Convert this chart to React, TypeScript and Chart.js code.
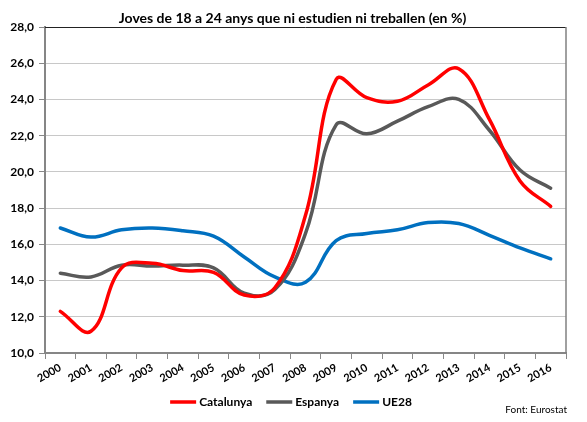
import React, { useEffect, useRef } from "react";
import { Chart, registerables } from "chart.js";

Chart.register(...registerables);

const title = "Joves de 18 a 24 anys que ni estudien ni treballen (en %)";
const source = "Font: Eurostat";
const years = ["2000","2001","2002","2003","2004","2005","2006","2007","2008","2009","2010","2011","2012","2013","2014","2015","2016"];
const catalunya = [12.3, 11.2, 14.7, 14.95, 14.55, 14.45, 13.2, 13.6, 17.6, 25.1, 24.1, 23.9, 24.8, 25.7, 22.9, 19.5, 18.1];
const espanya = [14.4, 14.2, 14.85, 14.8, 14.85, 14.7, 13.3, 13.5, 16.6, 22.6, 22.1, 22.8, 23.6, 24.0, 22.3, 20.1, 19.1];
const ue28 = [16.9, 16.4, 16.8, 16.9, 16.75, 16.45, 15.3, 14.2, 13.9, 16.2, 16.6, 16.8, 17.2, 17.15, 16.5, 15.8, 15.2];
const seriesNames = ["Catalunya", "Espanya", "UE28"];
const seriesColors = ["#FF0000", "#595959", "#0070C0"];
const yMin = 10;
const yMax = 28;
const yStep = 2;

const FONT = "Lato, 'Liberation Sans', Arial, sans-serif";

const decorPlugin = {
  id: "decor",
  afterDraw(chart: any) {
    const { ctx, chartArea, width } = chart;
    ctx.save();
    ctx.strokeStyle = "#222";
    ctx.lineWidth = 1;
    ctx.beginPath();
    ctx.moveTo(chartArea.left, chartArea.top + 0.5);
    ctx.lineTo(chartArea.right, chartArea.top + 0.5);
    ctx.stroke();
    ctx.strokeStyle = "#808080";
    ctx.lineWidth = 1.5;
    ctx.beginPath();
    ctx.moveTo(chartArea.right, chartArea.top);
    ctx.lineTo(chartArea.right, chartArea.bottom);
    ctx.stroke();

    ctx.fillStyle = "#000";
    ctx.font = `bold 14px ${FONT}`;
    ctx.textAlign = "center";
    ctx.textBaseline = "middle";
    ctx.fillText(title, width / 2 - 1, 18);

    ctx.font = `bold 12px ${FONT}`;
    const lineW = 26;
    const gap = 3;
    const itemGap = 14;
    const widths = seriesNames.map((n) => ctx.measureText(n).width);
    const total = widths.reduce((a, w) => a + lineW + gap + w, 0) + itemGap * (seriesNames.length - 1);
    let x = 291 - total / 2;
    const ly = 402;
    ctx.textAlign = "left";
    seriesNames.forEach((n, i) => {
      ctx.strokeStyle = seriesColors[i];
      ctx.lineWidth = 3.5;
      ctx.lineCap = "butt";
      ctx.beginPath();
      ctx.moveTo(x, ly);
      ctx.lineTo(x + lineW, ly);
      ctx.stroke();
      x += lineW + gap;
      ctx.fillStyle = "#000";
      ctx.fillText(n, x, ly);
      x += widths[i] + itemGap;
    });

    ctx.font = `10px ${FONT}`;
    ctx.textAlign = "right";
    ctx.fillText(source, 567, 410);
    ctx.restore();
  },
};

export default function App() {
  const ref = useRef<HTMLCanvasElement>(null);
  useEffect(() => {
    document.body.style.margin = "0";
    if (!ref.current) return;
    const datasets = [catalunya, espanya, ue28].map((d, i) => ({
      label: seriesNames[i],
      data: d,
      borderColor: seriesColors[i],
      backgroundColor: seriesColors[i],
      borderWidth: 3.5,
      pointRadius: 0,
      tension: 0.4,
      borderCapStyle: "round" as const,
      fill: false,
    }));
    const chart = new Chart(ref.current, {
      type: "line",
      data: { labels: years, datasets },
      options: {
        animation: false,
        responsive: false,
        devicePixelRatio: 1,
        layout: { padding: { top: 27, right: 21, left: 0, bottom: 0 } },
        plugins: {
          legend: { display: false },
          title: { display: false },
          tooltip: { enabled: false },
        },
        scales: {
          x: {
            type: "category",
            offset: true,
            grid: {
              display: true,
              drawOnChartArea: false,
              drawTicks: true,
              tickLength: 6,
              tickColor: "#888",
              offset: true,
            },
            border: { color: "#868686", width: 2 },
            ticks: {
              autoSkip: false,
              maxRotation: 30,
              minRotation: 30,
              padding: 2,
              color: "#000",
              font: { family: FONT, size: 11, weight: "bold" },
            },
            afterFit: (s: any) => {
              s.height = 69;
            },
          },
          y: {
            min: yMin,
            max: yMax,
            grid: {
              color: (c: any) => (c.tick && c.tick.value === yMax ? "rgba(0,0,0,0)" : "#c8c8c8"),
              lineWidth: 1,
              drawTicks: true,
              tickLength: 6,
              tickColor: "#888",
            },
            border: { color: "#868686", width: 2 },
            ticks: {
              stepSize: yStep,
              padding: 5,
              color: "#000",
              font: { family: FONT, size: 12, weight: "bold" },
              callback: (v: any) => Number(v).toFixed(1).replace(".", ","),
            },
            afterFit: (s: any) => {
              s.width = 45;
            },
          },
        },
      },
      plugins: [decorPlugin],
    });
    return () => chart.destroy();
  }, []);
  return (
    <div style={{ width: 587, height: 422 }}>
      <canvas ref={ref} width={587} height={422} />
    </div>
  );
}
